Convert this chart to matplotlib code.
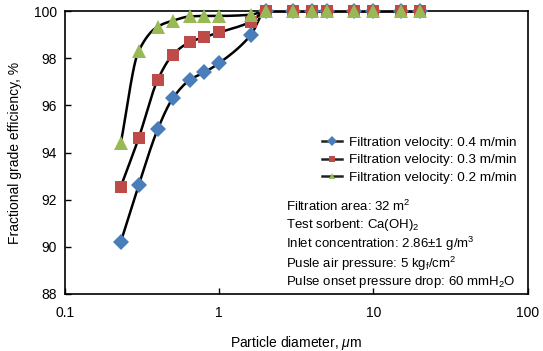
import numpy as np
import matplotlib
matplotlib.use("Agg")
import matplotlib.pyplot as plt

plt.rcParams['font.family'] = ['Liberation Sans', 'DejaVu Sans']
plt.rcParams['mathtext.fontset'] = 'custom'
plt.rcParams['mathtext.rm'] = 'Liberation Sans'
plt.rcParams['mathtext.it'] = 'Liberation Sans:italic'

diameter = [0.23, 0.30, 0.40, 0.50, 0.65, 0.80, 1.0, 1.6, 2, 3, 4, 5, 7.5, 10, 15, 20]
eff_04 = [90.2, 92.6, 95.0, 96.3, 97.1, 97.4, 97.8, 98.98, 100, 100, 100, 100, 100, 100, 100, 100]
eff_03 = [92.55, 94.6, 97.1, 98.15, 98.7, 98.9, 99.1, 99.55, 100, 100, 100, 100, 100, 100, 100, 100]
eff_02 = [94.4, 98.3, 99.35, 99.6, 99.78, 99.8, 99.8, 99.85, 100, 100, 100, 100, 100, 100, 100, 100]

labels = ['Filtration velocity: 0.4 m/min',
          'Filtration velocity: 0.3 m/min',
          'Filtration velocity: 0.2 m/min']
colors = ['#4a7ebb', '#be4b48', '#98b954']
markers = ['D', 's', '^']
msizes = [8.5, 9, 10]

notes = [r'Filtration area: 32 m$^2$',
         r'Test sorbent: Ca(OH)$_2$',
         r'Inlet concentration: 2.86$\pm$1 g/m$^3$',
         r'Pusle air pressure: 5 kg$_{\rm f}$/cm$^2$',
         r'Pulse onset pressure drop: 60 mmH$_2$O']


def pchip(x, y, xn):
    x = np.asarray(x, float); y = np.asarray(y, float)
    h = np.diff(x); d = np.diff(y) / h
    n = len(x); m = np.zeros(n)
    for k in range(1, n - 1):
        if d[k - 1] * d[k] > 0:
            w1 = 2 * h[k] + h[k - 1]; w2 = h[k] + 2 * h[k - 1]
            m[k] = (w1 + w2) / (w1 / d[k - 1] + w2 / d[k])
    m[0] = d[0]; m[-1] = d[-1]
    out = np.empty_like(xn)
    for i, xv in enumerate(xn):
        k = min(max(np.searchsorted(x, xv) - 1, 0), n - 2)
        t = (xv - x[k]) / h[k]
        h00 = 2*t**3 - 3*t**2 + 1; h10 = t**3 - 2*t**2 + t
        h01 = -2*t**3 + 3*t**2; h11 = t**3 - t**2
        out[i] = h00*y[k] + h10*h[k]*m[k] + h01*y[k+1] + h11*h[k]*m[k+1]
    return out


fig = plt.figure(figsize=(5.43, 3.51), dpi=100)
ax = fig.add_axes([0.1197, 0.163, 0.852, 0.805])

lx = np.log10(diameter)
xs = np.linspace(lx[0], lx[-1], 400)
series = [eff_04, eff_03, eff_02]
for ys in series:
    ax.plot(10**xs, pchip(lx, ys, xs), color='black', lw=1.8, zorder=2)

handles = []
for ys, c, mk, ms, lab in zip(series, colors, markers, msizes, labels):
    ax.plot(diameter, ys, linestyle='none', marker=mk, ms=ms, color=c,
            markeredgewidth=0, zorder=3, clip_on=False)
    h, = ax.plot([], [], color='#222222', lw=1.8, marker=mk, ms=5,
                 markerfacecolor=c, markeredgewidth=0, label=lab)
    handles.append(h)

ax.set_xscale('log')
ax.set_xlim(0.1, 100)
ax.set_ylim(88, 100)
ax.set_yticks(range(88, 101, 2))
ax.set_xticks([0.1, 1, 10, 100])
ax.set_xticklabels(['0.1', '1', '10', '100'])
ax.minorticks_off()
ax.tick_params(direction='in', labelsize=10, length=4, width=1, pad=6)
ax.tick_params(axis='x', pad=9)
for s in ax.spines.values():
    s.set_linewidth(1.2)

ax.set_xlabel(r'Particle diameter, $\mu$m', fontsize=10, labelpad=10)
ax.set_ylabel('Fractional grade efficiency, %', fontsize=10, labelpad=8)

leg = ax.legend(handles=handles, loc='upper right', bbox_to_anchor=(0.997, 0.59),
                frameon=False, fontsize=9.7, handlelength=1.5, handletextpad=0.5,
                labelspacing=0.38, borderpad=0.2)

note_y = [0.308, 0.244, 0.176, 0.107, 0.040]
for yy, t in zip(note_y, notes):
    ax.text(0.478, yy, t, transform=ax.transAxes,
            fontsize=9.5, ha='left', va='center')

fig.savefig('out.png', dpi=100)
